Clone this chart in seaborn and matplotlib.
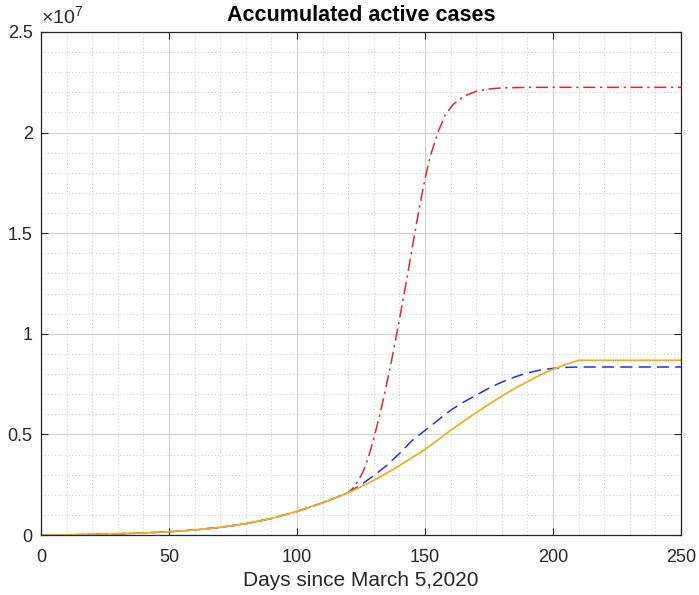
import numpy as np
import pandas as pd
import matplotlib
matplotlib.use("Agg")
import matplotlib.pyplot as plt
import seaborn as sns
from matplotlib.ticker import MultipleLocator, FuncFormatter

# Data (values in millions of cases)
common_days = [0, 10, 20, 30, 40, 50, 60, 70, 80, 90, 100, 110, 120]
common_vals = [0.0, 0.01, 0.03, 0.06, 0.10, 0.16, 0.25, 0.38, 0.56, 0.82, 1.17, 1.60, 2.10]

red_days = [122, 124, 126, 128, 130, 132, 134, 137, 140, 143, 146, 148, 150, 152, 155, 158, 161, 165, 170, 175, 180, 190, 250]
red_vals = [2.35, 2.7, 3.2, 3.9, 4.8, 5.8, 6.9, 8.7, 10.7, 12.8, 15.0, 16.4, 17.7, 18.8, 20.0, 20.9, 21.4, 21.8, 22.05, 22.17, 22.22, 22.25, 22.25]

blue_days = [125, 130, 135, 140, 145, 150, 155, 160, 165, 170, 175, 180, 185, 190, 195, 200, 205, 210, 250]
blue_vals = [2.5, 2.95, 3.45, 4.05, 4.7, 5.2, 5.7, 6.2, 6.6, 6.95, 7.3, 7.6, 7.85, 8.05, 8.2, 8.28, 8.33, 8.35, 8.35]

orange_days = [125, 130, 135, 140, 145, 150, 155, 160, 165, 170, 175, 180, 185, 190, 195, 200, 205, 210, 250]
orange_vals = [2.4, 2.72, 3.07, 3.45, 3.85, 4.25, 4.72, 5.2, 5.65, 6.08, 6.5, 6.9, 7.28, 7.62, 7.95, 8.23, 8.48, 8.68, 8.68]

title = "Accumulated active cases"
xlabel = "Days since March 5,2020"
y_exponent = 7


def series(days, vals, name):
    d = common_days + days
    v = [x * 1e6 for x in (common_vals + vals)]
    return pd.DataFrame({"day": d, "cases": v, "scenario": name})


df_red = series(red_days, red_vals, "red")
df_blue = series(blue_days, blue_vals, "blue")
df_orange = series(orange_days, orange_vals, "orange")

sns.set_theme(style="white")
plt.rcParams['font.family'] = ['Liberation Sans', 'DejaVu Sans']
plt.rcParams['mathtext.fontset'] = 'custom'
plt.rcParams['mathtext.rm'] = 'Liberation Sans'

fig = plt.figure(figsize=(6.99, 5.95), dpi=100)
ax = fig.add_axes([41 / 699, 60 / 595, 640 / 699, 503 / 595])

sns.lineplot(data=df_red, x="day", y="cases", ax=ax, color="#e3262f", lw=1.1,
             linestyle=(0, (8, 3, 1.5, 3)), estimator=None, sort=False)
sns.lineplot(data=df_blue, x="day", y="cases", ax=ax, color="#2233dd", lw=1.1,
             linestyle=(0, (8, 4)), estimator=None, sort=False)
sns.lineplot(data=df_orange, x="day", y="cases", ax=ax, color="#EDB120", lw=1.3,
             linestyle="-", estimator=None, sort=False)

ax.set_xlim(0, 250)
ax.set_ylim(0, 2.5e7)
ax.xaxis.set_major_locator(MultipleLocator(50))
ax.xaxis.set_minor_locator(MultipleLocator(10))
ax.yaxis.set_major_locator(MultipleLocator(0.5e7))
ax.yaxis.set_minor_locator(MultipleLocator(0.1e7))
ax.yaxis.set_major_formatter(FuncFormatter(lambda v, p: f"{v / 10**y_exponent:g}"))

ax.grid(which="major", color="#d0d0d0", lw=0.8, ls="-")
ax.grid(which="minor", color="#c8c8c8", lw=0.7, ls=(0, (1, 2.5)))
ax.set_axisbelow(True)

for s in ax.spines.values():
    s.set_color("#262626")
    s.set_linewidth(0.9)
    s.set_visible(True)

ax.tick_params(which="major", direction="in", length=5, width=0.8, color="#262626",
               top=True, right=True, bottom=True, left=True, labelsize=13,
               labelcolor="#262626")
ax.tick_params(axis="x", which="major", pad=10)
ax.tick_params(axis="y", which="major", pad=6)
ax.tick_params(which="minor", length=0, top=False, right=False)

ax.text(0.0, 1.008, r"$\times10^{%d}$" % y_exponent, transform=ax.transAxes,
        fontsize=14, color="#262626", ha="left", va="bottom")

ax.set_title(title, fontsize=15.5, fontweight="bold", color="black", pad=8)
ax.set_xlabel(xlabel, fontsize=15, color="#262626", labelpad=4)
ax.set_ylabel("")

fig.savefig("out.png", dpi=100)
